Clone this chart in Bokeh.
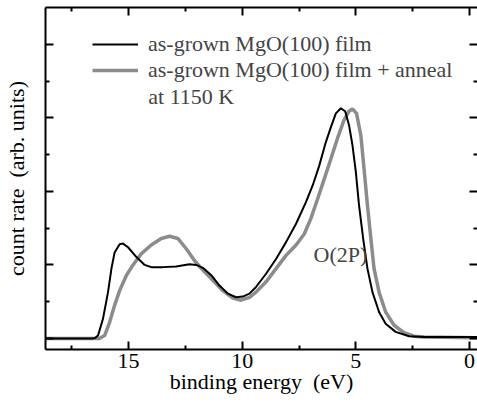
from bokeh.plotting import figure
from bokeh.models import (Range1d, LinearAxis, FixedTicker, Legend, LegendItem,
                          Label, CustomJSTickFormatter)
from bokeh.embed import file_html
from bokeh.resources import INLINE

# ---- data ----
energy_black = [18.65, 16.6, 16.48, 16.34, 16.12, 15.90, 15.75, 15.61, 15.39, 15.24, 15.02,
                14.66, 14.29, 14.0, 13.48, 12.90, 12.32, 12.02, 11.73, 11.36, 11.0,
                10.63, 10.27, 9.97, 9.68, 9.39, 8.95, 8.51, 8.07, 7.63, 7.20, 6.90,
                6.61, 6.32, 6.10, 5.88, 5.66, 5.47, 5.30, 5.15, 5.0, 4.86, 4.68, 4.49,
                4.27, 3.98, 3.69, 3.25, 2.66, 2.0, -0.35]
counts_black = [0.0, 0.0, 0.005, 0.04, 0.27, 0.63, 0.95, 1.17, 1.28, 1.29, 1.24,
                1.11, 1.00, 0.97, 0.97, 0.98, 1.01, 1.00, 0.96, 0.86, 0.72,
                0.61, 0.56, 0.57, 0.61, 0.70, 0.88, 1.08, 1.31, 1.56, 1.85, 2.08,
                2.35, 2.67, 2.87, 3.06, 3.13, 3.09, 2.90, 2.63, 2.26, 1.81, 1.36, 0.95,
                0.63, 0.36, 0.20, 0.09, 0.03, 0.02, 0.02]

energy_gray = [18.7, 16.4, 16.28, 16.05, 15.83, 15.61, 15.39, 15.09, 14.80, 14.44,
               14.0, 13.56, 13.19, 12.83, 12.46, 12.10, 11.73, 11.29, 10.85, 10.41,
               10.05, 9.68, 9.39, 8.95, 8.51, 8.07, 7.63, 7.27, 6.98, 6.68, 6.39,
               6.10, 5.81, 5.52, 5.30, 5.15, 4.97, 4.78, 4.64, 4.49, 4.34, 4.20,
               3.98, 3.69, 3.32, 2.88, 2.44, 2.0, -0.35]
counts_gray = [0.0, 0.0, 0.0, 0.04, 0.22, 0.45, 0.65, 0.86, 1.00, 1.15,
               1.27, 1.36, 1.39, 1.36, 1.22, 1.06, 0.93, 0.79, 0.65, 0.55,
               0.52, 0.56, 0.63, 0.77, 0.95, 1.13, 1.27, 1.42, 1.63, 1.90, 2.17,
               2.44, 2.72, 2.97, 3.09, 3.12, 3.06, 2.76, 2.31, 1.81, 1.36, 0.95,
               0.63, 0.36, 0.18, 0.08, 0.03, 0.02, 0.01]

x_major = [0, 5, 10, 15]
x_minor = [2.5, 7.5, 12.5, 17.5]
y_major = [0, 1, 2, 3, 4]
y_minor = [0.5, 1.5, 2.5, 3.5]

label_black = "as-grown MgO(100) film"
label_gray = "as-grown MgO(100) film + anneal"
label_gray2 = "at 1150 K"
peak_label = "O(2P)"
x_title = "binding energy \u00a0(eV)"
y_title = "count rate \u00a0(arb. units)"

FONT = "Liberation Serif"
FS = "22px"

p = figure(width=477, height=402, output_backend="svg", toolbar_location=None,
           x_range=Range1d(18.65, -0.35), y_range=Range1d(-0.15, 4.5),
           min_border_left=44, min_border_right=0, min_border_top=7,
           min_border_bottom=53)
p.outline_line_color = None
p.grid.visible = False
p.background_fill_color = "white"
p.border_fill_color = "white"

blank = CustomJSTickFormatter(code="return ''")

def style(ax, major, minor, labels=True):
    ax.ticker = FixedTicker(ticks=major, minor_ticks=minor)
    ax.axis_line_width = 2
    ax.axis_line_color = "black"
    ax.major_tick_line_width = 2
    ax.minor_tick_line_width = 2
    ax.major_tick_in = 8
    ax.major_tick_out = 0
    ax.minor_tick_in = 4
    ax.minor_tick_out = 0
    ax.major_label_text_font = FONT
    ax.major_label_text_font_size = FS
    ax.major_label_text_color = "black"
    ax.axis_label_text_font = FONT
    ax.axis_label_text_font_size = FS
    ax.axis_label_text_font_style = "normal"
    ax.axis_label_text_color = "black"
    if not labels:
        ax.formatter = blank
        ax.major_label_standoff = 0

xax = p.xaxis[0]
style(xax, x_major, x_minor)
xax.major_label_standoff = 4
xax.axis_label = x_title
xax.axis_label_standoff = -2

yax = p.yaxis[0]
style(yax, y_major, y_minor, labels=False)
yax.axis_label = y_title
yax.axis_label_standoff = 17

top = LinearAxis()
style(top, x_major, x_minor, labels=False)
p.add_layout(top, "above")

right = LinearAxis()
style(right, y_major, y_minor, labels=False)
right.axis_line_color = None
p.add_layout(right, "right")

rg = p.line(energy_gray, counts_gray, line_color="#8c8c8c", line_width=3.5)
rb = p.line(energy_black, counts_black, line_color="black", line_width=2)

legend = Legend(items=[LegendItem(label=label_black, renderers=[rb]),
                       LegendItem(label=label_gray, renderers=[rg])],
                location=(47, 266), border_line_color=None,
                background_fill_alpha=0, label_text_font=FONT,
                label_text_font_size=FS, glyph_width=46, glyph_height=24,
                label_height=24, spacing=0, padding=0, margin=0,
                label_standoff=10)
p.add_layout(legend)

p.add_layout(Label(x=14.13, y=3.29, text=label_gray2, text_font=FONT,
                   text_font_size=FS, text_baseline="middle"))
p.add_layout(Label(x=6.86, y=1.14, text=peak_label, text_font=FONT,
                   text_font_size=FS, text_baseline="middle"))

open("out.html", "w").write(file_html(p, INLINE))
